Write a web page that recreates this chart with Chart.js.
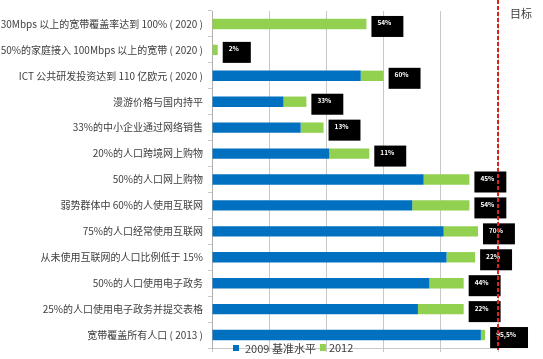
<!DOCTYPE html>
<html>
<head>
<meta charset="utf-8">
<script src="https://cdn.jsdelivr.net/npm/chart.js@4.4.0/dist/chart.umd.min.js"></script>
<style>
  html, body { margin: 0; padding: 0; background: #fff; }
  #wrap { width: 543px; height: 359px; }
</style>
</head>
<body>
<div id="wrap"><canvas id="grafico"></canvas></div>
<script>
const categorias = [
  '30Mbps 以上的宽带覆盖率达到 100% ( 2020 )',
  '50%的家庭接入 100Mbps 以上的宽带 ( 2020 )',
  'ICT 公共研发投资达到 110 亿欧元 ( 2020 )',
  '漫游价格与国内持平',
  '33%的中小企业通过网络销售',
  '20%的人口跨境网上购物',
  '50%的人口网上购物',
  '弱势群体中 60%的人使用互联网',
  '75%的人口经常使用互联网',
  '从未使用互联网的人口比例低于 15%',
  '50%的人口使用电子政务',
  '25%的人口使用电子政务并提交表格',
  '宽带覆盖所有人口 ( 2013 )'
];
const base2009 = [0, 0, 52, 25, 31, 41, 74, 70, 81, 82, 76, 72, 94];
const avance2012 = [54, 2, 8, 8, 8, 14, 16, 20, 12, 10, 12, 16, 1.5];
const etiquetas = ['54%', '2%', '60%', '33%', '13%', '11%', '45%', '54%', '70%', '22%', '44%', '22%', '95,5%'];
const ticksX = [0, 20, 40, 60, 80, 100];
const meta = 100;
const textoMeta = '目标';

const fuente = '"Noto Sans CJK SC", "Noto Sans", sans-serif';

// cajas negras con el porcentaje
const cajasPlugin = {
  id: 'cajas',
  afterDatasetsDraw(chart) {
    const ctx = chart.ctx;
    const barras = chart.getDatasetMeta(1).data;
    ctx.save();
    ctx.font = 'bold 6.5px ' + fuente;
    ctx.textBaseline = 'middle';
    barras.forEach((b, i) => {
      const w = ctx.measureText(etiquetas[i]).width + 18;
      const x = b.x + 5;
      const y = b.y - 8;
      ctx.fillStyle = '#000';
      ctx.fillRect(x, y, w, 21);
      ctx.fillStyle = '#fff';
      ctx.fillText(etiquetas[i], x + 6, y + 7);
    });
    ctx.restore();
  }
};

// linea roja del objetivo y leyenda
const metaPlugin = {
  id: 'meta',
  afterDraw(chart) {
    const ctx = chart.ctx;
    const xs = chart.scales.x;
    const area = chart.chartArea;
    const px = xs.getPixelForValue(meta);
    ctx.save();
    ctx.strokeStyle = '#e0201b';
    ctx.lineWidth = 2;
    ctx.setLineDash([4, 2]);
    ctx.beginPath();
    ctx.moveTo(px, 0);
    ctx.lineTo(px, area.bottom + 2);
    ctx.stroke();
    ctx.setLineDash([]);

    ctx.font = '11px ' + fuente;
    ctx.fillStyle = '#404040';
    ctx.textBaseline = 'middle';
    ctx.fillText(textoMeta, px + 12, 14);

    // leyenda
    let lx = 233;
    const ly = 348;
    chart.data.datasets.forEach((ds, i) => {
      ctx.fillStyle = ds.backgroundColor;
      ctx.fillRect(lx, ly - 3 - (i ? 1 : 0), 6, 6 + (i ? 1 : 0));
      lx += 12 - (i ? 3 : 0);
      ctx.fillStyle = '#404040';
      ctx.fillText(ds.label, lx, ly + 1 - (i ? 1 : 0));
      lx += ctx.measureText(ds.label).width + 4;
    });
    ctx.restore();
  }
};

new Chart(document.getElementById('grafico'), {
  type: 'bar',
  data: {
    labels: categorias,
    datasets: [
      { label: '2009 基准水平', data: base2009, backgroundColor: '#0070c0' },
      { label: '2012', data: avance2012, backgroundColor: '#92d050' }
    ]
  },
  options: {
    indexAxis: 'y',
    responsive: true,
    maintainAspectRatio: false,
    animation: false,
    datasets: { bar: { barPercentage: 0.4, categoryPercentage: 1 } },
    layout: { padding: { top: 3, right: 45, bottom: 7, left: 0 } },
    plugins: { legend: { display: false }, tooltip: { enabled: false } },
    scales: {
      x: {
        stacked: true,
        min: 0,
        max: 100,
        afterBuildTicks(s) { s.ticks = ticksX.map(v => ({ value: v })); },
        ticks: { display: false },
        grid: { color: '#c8c8c8', tickLength: 4 },
        border: { color: '#c8c8c8' }
      },
      y: {
        stacked: true,
        afterFit(s) { s.width = 212; },
        ticks: { color: '#404040', font: { family: fuente, size: 10 }, padding: 5, autoSkip: false },
        grid: { drawOnChartArea: false, offset: true, tickLength: 4, color: '#c8c8c8' },
        border: { color: '#b0b0b0' }
      }
    }
  },
  plugins: [cajasPlugin, metaPlugin]
});
</script>
</body>
</html>
